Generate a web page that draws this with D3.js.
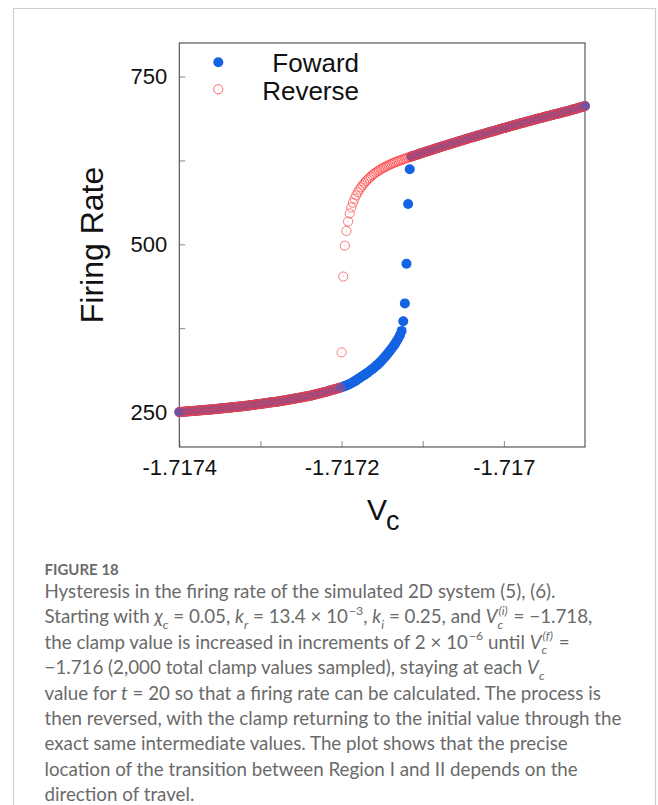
<!DOCTYPE html>
<html>
<head>
<meta charset="utf-8">
<script src="https://cdn.jsdelivr.net/npm/d3@7"></script>
<style>
  body { margin: 0; background: #fff; }
  svg { display: block; }
  svg text { white-space: pre; }
</style>
</head>
<body>
<svg id="fig" width="658" height="805"></svg>
<script>
// clamp values start at -1.7174 in view, sampled every 2e-6 (see caption)
const vStart = -1.7174;
const vStep = 2e-6;

// firing rate on the lower branch, sample 0..142
const lowerBranch = [
  250.0, 250.2, 250.4, 250.6, 250.8, 251.0, 251.2, 251.4, 251.6, 251.8,
  252.0, 252.2, 252.4, 252.6, 252.8, 253.0, 253.2, 253.4, 253.6, 253.8,
  254.0, 254.2, 254.5, 254.7, 255.0, 255.2, 255.5, 255.7, 256.0, 256.2,
  256.5, 256.7, 257.0, 257.2, 257.5, 257.7, 258.0, 258.2, 258.5, 258.7,
  259.0, 259.3, 259.6, 260.0, 260.3, 260.6, 260.9, 261.2, 261.6, 261.9,
  262.2, 262.5, 262.9, 263.2, 263.5, 263.9, 264.2, 264.5, 264.9, 265.2,
  265.5, 265.9, 266.3, 266.7, 267.1, 267.5, 268.0, 268.4, 268.8, 269.2,
  269.6, 270.1, 270.5, 270.9, 271.4, 271.8, 272.3, 272.7, 273.2, 273.6,
  274.0, 274.6, 275.2, 275.8, 276.4, 277.0, 277.6, 278.2, 278.8, 279.4,
  280.0, 280.7, 281.4, 282.1, 282.8, 283.5, 284.2, 284.9, 285.6, 286.3,
  287.0, 287.9, 288.8, 289.8, 290.8, 291.9, 293.1, 294.4, 295.8, 297.3,
  299.0, 300.6, 302.2, 303.8, 305.4, 307.0, 308.8, 310.6, 312.4, 314.2,
  316.0, 318.2, 320.4, 322.6, 325.0, 327.6, 330.2, 333.0, 336.0, 339.0,
  342.0, 345.2, 348.5, 352.0, 356.0, 360.0, 365.0, 371.0,
  385.5, 412.0, 471.0, 560.0, 612.0
];

// firing rate on the upper branch, sample 100..250
const upperStart = 100;
const upperBranch = [
  339, 452, 498, 520, 534, 546, 555, 562, 568, 573,
  577.5, 581.5, 585.0, 588.2, 591.2, 594.0, 596.5, 598.8, 601.0, 603.1,
  605.0, 606.8, 608.5, 610.1, 611.6, 613.0, 614.3, 615.6, 616.8, 618.0,
  619.1, 620.2, 621.2, 622.2, 623.2, 624.1, 625.0, 625.9, 626.8, 627.6,
  628.4, 629.2, 630.0, 630.8, 631.6, 632.4, 633.2, 634.0, 634.8, 635.6,
  636.4, 637.2, 638.0, 638.8, 639.6, 640.3, 641.1, 641.9, 642.7, 643.4,
  644.2, 645.0, 645.7, 646.5, 647.2, 648.0, 648.8, 649.5, 650.3, 651.0,
  651.8, 652.5, 653.2, 654.0, 654.7, 655.4, 656.2, 656.9, 657.6, 658.4,
  659.1, 659.8, 660.5, 661.2, 662.0, 662.7, 663.4, 664.1, 664.8, 665.5,
  666.2, 666.9, 667.6, 668.3, 669.0, 669.7, 670.4, 671.1, 671.8, 672.5,
  673.2, 673.9, 674.6, 675.3, 676.0, 676.6, 677.3, 678.0, 678.7, 679.3,
  680.0, 680.7, 681.3, 682.0, 682.6, 683.3, 683.9, 684.6, 685.3, 685.9,
  686.5, 687.2, 687.8, 688.4, 689.1, 689.7, 690.3, 691.0, 691.6, 692.2,
  692.8, 693.5, 694.1, 694.7, 695.3, 695.9, 696.5, 697.2, 697.8, 698.4,
  699.0, 699.7, 700.4, 701.1, 701.8, 702.5, 703.2, 703.9, 704.6, 705.3, 706.0
];

const forwardJump = 143;   // first forward sample that lands on the upper branch
const reverseJump = 99;    // first reverse sample back on the lower branch

const xTicks = [-1.7174, -1.7173, -1.7172, -1.7171, -1.7170];
const xTickLabels = ["-1.7174", "", "-1.7172", "", "-1.717"];
const yTicks = [250, 375, 500, 625, 750];
const yTickLabels = ["250", "", "500", "", "750"];
const seriesNames = ["Foward", "Reverse"];

const nSamples = upperStart + upperBranch.length;

const forward = d3.range(nSamples).map(i => ({
  v: vStart + i * vStep,
  rate: i < forwardJump ? lowerBranch[i] : upperBranch[i - upperStart]
}));
const reverse = d3.range(nSamples - 1, -1, -1).map(i => ({
  v: vStart + i * vStep,
  rate: i > reverseJump ? upperBranch[i - upperStart] : lowerBranch[i]
}));

const blue = "#1463e2";
const red = "#ff3c3c";
const chartFont = "'Liberation Sans', Arial, Helvetica, sans-serif";
const captionFont = "Lato, 'Open Sans', sans-serif";

const svg = d3.select("#fig");
svg.append("rect").attr("width", 658).attr("height", 805).attr("fill", "#fff");
// page frame
svg.append("path")
  .attr("d", "M13.5,812V8.5H655.5V812")
  .attr("fill", "none").attr("stroke", "#cfcfcf").attr("stroke-width", 1.2);

const plot = { left: 179.3, right: 585, top: 43, bottom: 447 };
const x = d3.scaleLinear().domain([-1.7174, -1.7169]).range([plot.left, plot.right]);
const y = d3.scaleLinear().domain([198, 800]).range([plot.bottom, plot.top]);

// axes, ticks pointing inward
const gx = svg.append("g")
  .attr("transform", `translate(0,${plot.bottom})`)
  .call(d3.axisBottom(x).tickValues(xTicks).tickSize(-6).tickPadding(12)
    .tickFormat((d, i) => xTickLabels[i]));
const gy = svg.append("g")
  .attr("transform", `translate(${plot.left},0)`)
  .call(d3.axisLeft(y).tickValues(yTicks).tickSize(-6).tickPadding(12)
    .tickFormat((d, i) => yTickLabels[i]));
[gx, gy].forEach(g => {
  g.select(".domain").remove();
  g.selectAll(".tick line").attr("stroke", "#8a8a8a");
  g.selectAll(".tick text").attr("fill", "#111")
    .style("font-family", chartFont).style("font-size", "22px");
});

svg.append("rect")
  .attr("x", plot.left).attr("y", plot.top)
  .attr("width", plot.right - plot.left).attr("height", plot.bottom - plot.top)
  .attr("fill", "none").attr("stroke", "#4a4a4a").attr("stroke-width", 1.1);

// data
svg.append("g").selectAll("circle").data(forward).join("circle")
  .attr("cx", d => x(d.v)).attr("cy", d => y(d.rate)).attr("r", 5)
  .attr("fill", blue);

const rev = svg.append("g").selectAll("g").data(reverse).join("g")
  .attr("transform", d => `translate(${x(d.v)},${y(d.rate)})`);
rev.append("circle").attr("r", 4.6)
  .attr("fill", "none").attr("stroke", red).attr("stroke-width", 0.8).attr("stroke-opacity", 0.85);
rev.append("circle").attr("r", 0.5).attr("fill", red).attr("fill-opacity", 0.5);

// legend
const legend = svg.append("g");
legend.append("circle").attr("cx", 218.3).attr("cy", 62.3).attr("r", 5).attr("fill", blue);
legend.append("circle").attr("cx", 218.3).attr("cy", 89.3).attr("r", 4.6)
  .attr("fill", "none").attr("stroke", red).attr("stroke-width", 0.8);
legend.append("circle").attr("cx", 218.3).attr("cy", 89.3).attr("r", 0.5)
  .attr("fill", red).attr("fill-opacity", 0.5);
legend.selectAll("text").data(seriesNames).join("text")
  .attr("x", 359).attr("y", (d, i) => 72 + i * 27.5)
  .attr("text-anchor", "end")
  .style("font-family", chartFont).style("font-size", "26px").attr("fill", "#111")
  .text(d => d);

// axis titles
svg.append("text")
  .attr("transform", `translate(103,245) rotate(-90)`)
  .attr("text-anchor", "middle")
  .style("font-family", chartFont).style("font-size", "32px").attr("fill", "#111")
  .text("Firing Rate");
const xt = svg.append("text")
  .attr("x", 367).attr("y", 520)
  .style("font-family", chartFont).attr("fill", "#111");
xt.append("tspan").style("font-size", "30px").text("V");
xt.append("tspan").attr("dx", -1).attr("dy", 10).style("font-size", "27px").text("c");

// caption
const cap = svg.append("g").attr("fill", "#6a6a6a");
cap.append("text")
  .attr("x", 44.5).attr("y", 575)
  .style("font-family", captionFont).style("font-size", "15px").style("font-weight", 700)
  .attr("fill", "#6b6b6b")
  .text("FIGURE 18");

const captionLines = [
  ["Hysteresis in the firing rate of the simulated 2D system (5), (6)."],
  ["Starting with ", { t: "\u03c7", i: 1 }, { t: "c", sub: 1, i: 1 }, " = 0.05, ",
   { t: "k", i: 1 }, { t: "r", sub: 1, i: 1 }, " = 13.4 \u00d7 10", { t: "\u22123", sup: 1 }, ", ",
   { t: "k", i: 1 }, { t: "i", sub: 1, i: 1 }, " = 0.25, and ",
   { t: "V", i: 1 }, { stack: ["(i)", "c"] }, " = \u22121.718,"],
  ["the clamp value is increased in increments of 2 \u00d7 10", { t: "\u22126", sup: 1 },
   " until ", { t: "V", i: 1 }, { stack: ["(f)", "c"] }, " ="],
  ["\u22121.716 (2,000 total clamp values sampled), staying at each ",
   { t: "V", i: 1 }, { t: "c", sub: 1, i: 1 }],
  ["value for ", { t: "t", i: 1 }, " = 20 so that a firing rate can be calculated. The process is"],
  ["then reversed, with the clamp returning to the initial value through the"],
  ["exact same intermediate values. The plot shows that the precise"],
  ["location of the transition between Region I and II depends on the"],
  ["direction of travel."]
];

// pick the size so the widest plain line spans the same width as in the figure
const probe = cap.append("text").style("font-family", captionFont).style("font-size", "100px")
  .text(captionLines[5][0]);
const capSize = 100 * 577 / probe.node().getComputedTextLength();
probe.remove();

function put(g, t, px, py, size, italic) {
  const el = g.append("text").attr("x", px).attr("y", py)
    .attr("xml:space", "preserve")
    .style("font-family", captionFont).style("font-size", size + "px")
    .style("font-style", italic ? "italic" : "normal")
    .text(t);
  return el.node().getComputedTextLength();
}

captionLines.forEach((segs, li) => {
  const by = 598 + li * 25.4;
  let cx = 44.5;
  segs.forEach(s => {
    if (typeof s === "string") s = { t: s };
    const small = capSize * 0.66;
    if (s.stack) {
      const a = put(cap, s.stack[0], cx + 1, by - capSize * 0.45, small, true);
      const b = put(cap, s.stack[1], cx, by + capSize * 0.3, small, true);
      cx += Math.max(a + 1, b) + 1;
    } else if (s.sub) {
      cx += put(cap, s.t, cx, by + capSize * 0.3, small, s.i);
    } else if (s.sup) {
      cx += put(cap, s.t, cx + 1, by - capSize * 0.45, small, s.i) + 1;
    } else {
      cx += put(cap, s.t, cx, by, capSize, s.i);
    }
  });
});
</script>
</body>
</html>
